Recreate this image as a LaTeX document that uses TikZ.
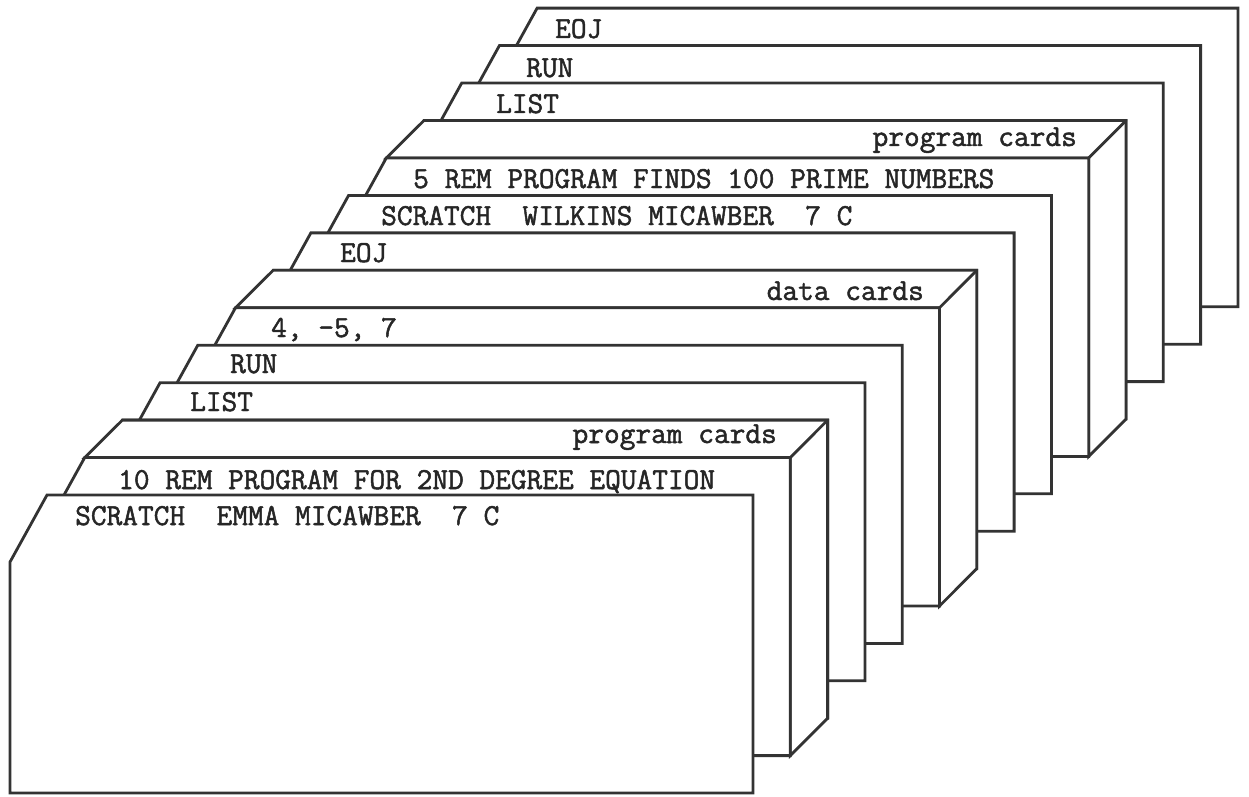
\documentclass[tikz,border=0pt]{standalone}
\usepackage{fontspec}
\newfontfamily\cardfont[FakeBold=1.6]{Latin Modern Mono}
\begin{document}
\begin{tikzpicture}[x=1pt,y=-1pt,
  card/.style={draw=black!80,fill=white,line width=2.8pt,line join=miter},
  edge/.style={draw=black!80,line width=2.8pt,line cap=round},
  lbl/.style={inner sep=0pt,text=black!85,font=\cardfont\fontsize{30.5}{30.5}\selectfont}]
\fill[white] (0,0) rectangle (1249,797);
\useasboundingbox (0,0) rectangle (1249,797);
\newcommand\drawcard[1]{%
  \pgfmathsetmacro\cT{495-37.45*#1}%
  \pgfmathsetmacro\cX{47+37.7*#1}%
  \pgfmathsetmacro\cR{753+37.3*#1}%
  \pgfmathsetmacro\cB{793-37.4*#1}%
  \pgfmathsetmacro\cL{\cX-37}%
  \pgfmathsetmacro\cC{\cT+67}%
  \draw[card] (\cX,\cT) -- (\cR,\cT) -- (\cR,\cB) -- (\cL,\cB) -- (\cL,\cC) -- cycle;
}
\newcommand\drawblock[1]{%
  \pgfmathsetmacro\fT{495-37.45*(#1-1)}%
  \pgfmathsetmacro\fX{47+37.7*(#1-1)}%
  \pgfmathsetmacro\fR{753+37.3*(#1-1)}%
  \pgfmathsetmacro\fB{793-37.4*(#1-1)}%
  \pgfmathsetmacro\bT{495-37.45*#1}%
  \pgfmathsetmacro\bX{47+37.7*#1}%
  \pgfmathsetmacro\bR{753+37.3*#1}%
  \pgfmathsetmacro\bB{793-37.4*#1}%
  \draw[card] (\fX,\fT) -- (\bX,\bT) -- (\bR,\bT) -- (\bR,\bB) -- (\fR,\fB) -- (\fR,\fT) -- cycle;
  \draw[edge] (\fR,\fT) -- (\bR,\bT);
}
% back to front
\drawcard{13}
\node[lbl,anchor=base west] (eoj2) at (555,38) {EOJ};
\drawcard{12}
\node[lbl,anchor=base west] (run2) at (526,77) {RUN};
\drawcard{11}
\node[lbl,anchor=base west] (list2) at (496,113) {LIST};
\drawcard{10}
\drawblock{10}
\node[lbl,anchor=base east] (prog2) at (1077,146) {program cards};
\drawcard{9}
\node[lbl,anchor=base west] (rem5) at (413,188) {5 REM PROGRAM FINDS 100 PRIME NUMBERS};
\drawcard{8}
\node[lbl,anchor=base west] (scr2) at (381,225) {SCRATCH\ \ WILKINS MICAWBER\ \ 7 C};
\drawcard{7}
\node[lbl,anchor=base west] (eoj1) at (340,262) {EOJ};
\drawcard{6}
\drawblock{6}
\node[lbl,anchor=base east] (data) at (924,300) {data cards};
\drawcard{5}
\node[lbl,anchor=base west] (vals) at (271,337) {4, -5, 7};
\drawcard{4}
\node[lbl,anchor=base west] (run1) at (230,373) {RUN};
\drawcard{3}
\node[lbl,anchor=base west] (list1) at (190,411) {LIST};
\drawcard{2}
\drawblock{2}
\node[lbl,anchor=base east] (prog1) at (777,443) {program cards};
\drawcard{1}
\node[lbl,anchor=base west] (rem10) at (118,489) {10 REM PROGRAM FOR 2ND DEGREE EQUATION};
\drawcard{0}
\node[lbl,anchor=base west] (scr1) at (75,525) {SCRATCH\ \ EMMA MICAWBER\ \ 7 C};
\end{tikzpicture}
\end{document}
